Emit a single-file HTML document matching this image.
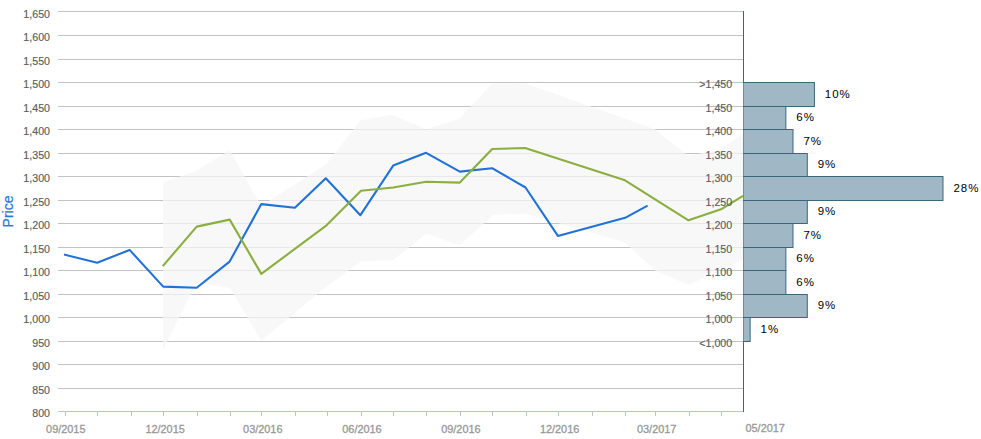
<!DOCTYPE html>
<html><head><meta charset="utf-8"><title>Price chart</title>
<style>
html,body{margin:0;padding:0;background:#fff;}
body{width:981px;height:439px;overflow:hidden;font-family:"Liberation Sans",sans-serif;}
svg{display:block;}
text{font-family:"Liberation Sans",sans-serif;}
.yl{font-size:10.67px;fill:#5c5c5c;stroke:#5c5c5c;stroke-width:0.15px;text-anchor:end;}
.xl{font-size:10.9px;fill:#989898;stroke:#989898;stroke-width:0.3px;text-anchor:middle;}
.pl{font-size:11.5px;fill:#000;letter-spacing:1px;}
</style></head><body>
<svg width="981" height="439" viewBox="0 0 981 439">
<rect width="981" height="439" fill="#fff"/>
<g shape-rendering="crispEdges" fill="#c2c2c2">
<rect x="58" y="11" width="685" height="1"/>
<rect x="58" y="35" width="685" height="1"/>
<rect x="58" y="59" width="685" height="1"/>
<rect x="58" y="82" width="685" height="1"/>
<rect x="58" y="106" width="685" height="1"/>
<rect x="58" y="129" width="685" height="1"/>
<rect x="58" y="153" width="685" height="1"/>
<rect x="58" y="176" width="685" height="1"/>
<rect x="58" y="200" width="685" height="1"/>
<rect x="58" y="223" width="685" height="1"/>
<rect x="58" y="247" width="685" height="1"/>
<rect x="58" y="270" width="685" height="1"/>
<rect x="58" y="294" width="685" height="1"/>
<rect x="58" y="317" width="685" height="1"/>
<rect x="58" y="341" width="685" height="1"/>
<rect x="58" y="364" width="685" height="1"/>
<rect x="58" y="388" width="685" height="1"/>
</g>
<polygon points="163,182.5 196.5,170.7 229.7,150.2 261.3,205.8 326,164.6 360.4,120.4 392.0,114.7 426.1,129.4 459.3,118.8 492.3,83.5 525,83.3 655,129.3 688.5,156.0 721,149 743,133.6 743,259.5 688.5,284.9 654.5,270.3 625,242.4 526.1,213.7 493.3,214.8 459.3,245.5 426.5,233.4 393.2,260 361,261.5 326,287 261.3,340.7 229.9,288 196.7,282.7 163,349.5" fill="#f5f5f5" fill-opacity="0.74"/>
<g shape-rendering="crispEdges" fill="#b2c7de">
<rect x="58" y="411" width="686" height="1"/>
<rect x="65" y="411" width="1" height="5"/>
<rect x="97" y="411" width="1" height="5"/>
<rect x="131" y="411" width="1" height="5"/>
<rect x="163" y="411" width="1" height="5"/>
<rect x="197" y="411" width="1" height="5"/>
<rect x="230" y="411" width="1" height="5"/>
<rect x="261" y="411" width="1" height="5"/>
<rect x="295" y="411" width="1" height="5"/>
<rect x="327" y="411" width="1" height="5"/>
<rect x="361" y="411" width="1" height="5"/>
<rect x="393" y="411" width="1" height="5"/>
<rect x="426" y="411" width="1" height="5"/>
<rect x="460" y="411" width="1" height="5"/>
<rect x="492" y="411" width="1" height="5"/>
<rect x="526" y="411" width="1" height="5"/>
<rect x="558" y="411" width="1" height="5"/>
<rect x="592" y="411" width="1" height="5"/>
<rect x="625" y="411" width="1" height="5"/>
<rect x="655" y="411" width="1" height="5"/>
<rect x="689" y="411" width="1" height="5"/>
<rect x="721" y="411" width="1" height="5"/>
</g>
<polyline points="64.0,254.6 97.2,262.8 129.6,249.9 163.2,286.6 196.7,287.8 229.6,261.6 261.3,204.1 294.9,207.8 325.8,178.3 360.4,215.2 393.2,165.6 426.1,152.8 459.8,171.6 492.1,168.2 525.5,187.5 557.9,235.9 625.1,217.8 647.6,205.7" fill="none" stroke="#2172d8" stroke-width="2.1" stroke-linejoin="round" stroke-linecap="butt"/>
<polyline points="162.8,266.1 196.7,226.6 229.7,219.6 261.3,273.9 326.5,225.3 361,190.8 393.2,187.5 426.1,181.8 459.8,182.6 492.3,149 525.1,148 625,180.3 688.5,220.3 721,209.3 743,195.9" fill="none" stroke="#8aaf40" stroke-width="2.1" stroke-linejoin="round" stroke-linecap="butt"/>
<text class="yl" x="50" y="18">1,650</text>
<text class="yl" x="50" y="41">1,600</text>
<text class="yl" x="50" y="65">1,550</text>
<text class="yl" x="50" y="88">1,500</text>
<text class="yl" x="50" y="112">1,450</text>
<text class="yl" x="50" y="135">1,400</text>
<text class="yl" x="50" y="159">1,350</text>
<text class="yl" x="50" y="182">1,300</text>
<text class="yl" x="50" y="206">1,250</text>
<text class="yl" x="50" y="229">1,200</text>
<text class="yl" x="50" y="253">1,150</text>
<text class="yl" x="50" y="276">1,100</text>
<text class="yl" x="50" y="300">1,050</text>
<text class="yl" x="50" y="323">1,000</text>
<text class="yl" x="50" y="347">950</text>
<text class="yl" x="50" y="370">900</text>
<text class="yl" x="50" y="394">850</text>
<text class="yl" x="50" y="417">800</text>
<text class="xl" x="65.8" y="433">09/2015</text>
<text class="xl" x="165.1" y="433">12/2015</text>
<text class="xl" x="262.8" y="433">03/2016</text>
<text class="xl" x="362.0" y="433">06/2016</text>
<text class="xl" x="460.9" y="433">09/2016</text>
<text class="xl" x="559.6" y="433">12/2016</text>
<text class="xl" x="656.7" y="433">03/2017</text>
<text class="xl" x="745.5" y="432" style="text-anchor:start">05/2017</text>
<text transform="translate(13.2,211.5) rotate(-90)" text-anchor="middle" font-size="14px" fill="#2a78d8" stroke="#2a78d8" stroke-width="0.2">Price</text>
<text class="yl" x="732.2" y="88">&gt;1,450</text>
<text class="yl" x="732.2" y="112">1,450</text>
<text class="yl" x="732.2" y="135">1,400</text>
<text class="yl" x="732.2" y="159">1,350</text>
<text class="yl" x="732.2" y="182">1,300</text>
<text class="yl" x="732.2" y="206">1,250</text>
<text class="yl" x="732.2" y="229">1,200</text>
<text class="yl" x="732.2" y="253">1,150</text>
<text class="yl" x="732.2" y="276">1,100</text>
<text class="yl" x="732.2" y="300">1,050</text>
<text class="yl" x="732.2" y="323">1,000</text>
<text class="yl" x="732.2" y="347">&lt;1,000</text>
<rect x="743" y="11" width="1" height="401" fill="#3a667c" shape-rendering="crispEdges"/>
<clipPath id="cp"><rect x="743" y="0" width="238" height="439"/></clipPath>
<g clip-path="url(#cp)">
<rect x="743" y="82.5" width="71.43" height="24" fill="#a0b8c6" stroke="#3a667c" stroke-width="1"/>
<rect x="743" y="106.5" width="42.86" height="23" fill="#a0b8c6" stroke="#3a667c" stroke-width="1"/>
<rect x="743" y="129.5" width="50.00" height="24" fill="#a0b8c6" stroke="#3a667c" stroke-width="1"/>
<rect x="743" y="153.5" width="64.29" height="23" fill="#a0b8c6" stroke="#3a667c" stroke-width="1"/>
<rect x="743" y="176.5" width="200.00" height="24" fill="#a0b8c6" stroke="#3a667c" stroke-width="1"/>
<rect x="743" y="200.5" width="64.29" height="23" fill="#a0b8c6" stroke="#3a667c" stroke-width="1"/>
<rect x="743" y="223.5" width="50.00" height="24" fill="#a0b8c6" stroke="#3a667c" stroke-width="1"/>
<rect x="743" y="247.5" width="42.86" height="23" fill="#a0b8c6" stroke="#3a667c" stroke-width="1"/>
<rect x="743" y="270.5" width="42.86" height="24" fill="#a0b8c6" stroke="#3a667c" stroke-width="1"/>
<rect x="743" y="294.5" width="64.29" height="23" fill="#a0b8c6" stroke="#3a667c" stroke-width="1"/>
<rect x="743" y="317.5" width="7.14" height="24" fill="#a0b8c6" stroke="#3a667c" stroke-width="1"/>
</g>
<text class="pl" x="824.8" y="98">10%</text>
<text class="pl" x="796.3" y="121">6%</text>
<text class="pl" x="803.4" y="145">7%</text>
<text class="pl" x="817.7" y="168">9%</text>
<text class="pl" x="953.4" y="192">28%</text>
<text class="pl" x="817.7" y="215">9%</text>
<text class="pl" x="803.4" y="239">7%</text>
<text class="pl" x="796.3" y="262">6%</text>
<text class="pl" x="796.3" y="286">6%</text>
<text class="pl" x="817.7" y="309">9%</text>
<text class="pl" x="760.5" y="333">1%</text>
</svg></body></html>
